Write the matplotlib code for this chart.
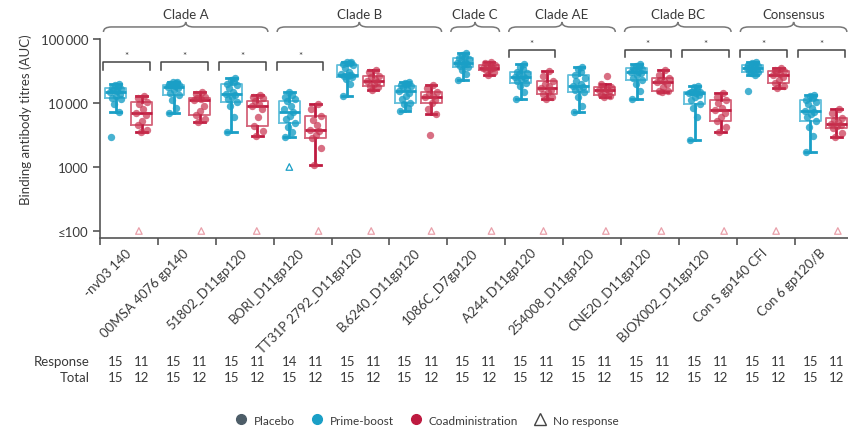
import numpy as np
import matplotlib.pyplot as plt
from matplotlib.path import Path
from matplotlib.patches import PathPatch
from matplotlib.lines import Line2D
from matplotlib.transforms import blended_transform_factory

plt.rcParams['font.family'] = ['Lato', 'DejaVu Sans']

antigens = ['-nv03 140', '00MSA 4076 gp140', '51802_D11gp120', 'BORI_D11gp120',
            'TT31P 2792_D11gp120', 'B.6240_D11gp120', '1086C_D7gp120', 'A244 D11gp120',
            '254008_D11gp120', 'CNE20_D11gp120', 'BJOX002_D11gp120', 'Con S gp140 CFI',
            'Con 6 gp120/B']
clades = ['Clade A', 'Clade B', 'Clade C', 'Clade AE', 'Clade BC', 'Consensus']
clade_start = [0, 3, 6, 7, 9, 11]
clade_end = [3, 6, 7, 9, 11, 13]
signif = [0, 1, 2, 3, 7, 9, 10, 11, 12]

# box statistics: whisker low, q1, median, q3, whisker high
pb_lo = [7200, 7000, 3500, 2900, 13000, 7600, 22900, 11500, 7200, 11500, 2600, 27400, 1700]
pb_q1 = [12000, 13300, 10500, 4900, 25100, 10000, 36100, 20500, 15000, 23100, 9650, 30200, 5300]
pb_med = [14900, 17800, 14000, 7200, 27500, 15500, 42200, 25100, 18200, 30200, 14200, 34800, 7600]
pb_q3 = [17100, 19100, 19800, 10900, 39200, 18200, 49900, 30800, 27400, 34800, 15000, 39200, 11100]
pb_hi = [19800, 21500, 24300, 14700, 44200, 21000, 60400, 40700, 36100, 40700, 18600, 44200, 13300]

co_lo = [3500, 5100, 3050, 1090, 16100, 6700, 27400, 11500, 12500, 14700, 3560, 17000, 2970]
co_q1 = [4500, 6500, 4400, 2800, 18200, 10000, 33100, 13800, 13500, 15500, 5280, 20500, 4030]
co_med = [7100, 11300, 9100, 3800, 22300, 12300, 35200, 17000, 16000, 21000, 7800, 27700, 4700]
co_q3 = [10400, 11800, 10900, 6200, 26700, 14700, 39200, 21800, 17600, 24300, 11100, 31300, 5840]
co_hi = [12800, 14700, 13300, 9650, 33100, 19100, 44200, 32000, 19800, 32800, 14200, 34800, 8060]

pb_points = [
    [2950, 7200, 9500, 11500, 12000, 13000, 14000, 14900, 15500, 16200, 16800, 17100, 18000, 19000, 19800],
    [7000, 8500, 11000, 13300, 14500, 16000, 17000, 17800, 18200, 18800, 19100, 19500, 20500, 21000, 21500],
    [3500, 6000, 9000, 10500, 11500, 12500, 13500, 14000, 15000, 17000, 19000, 19800, 21500, 23000, 24300],
    [2900, 3500, 4200, 4900, 5600, 6300, 7200, 8000, 9000, 10900, 11500, 12500, 13500, 14700],
    [13000, 20000, 24000, 25100, 26000, 27000, 27500, 28500, 31000, 35000, 39200, 40000, 42000, 43000, 44200],
    [7600, 8500, 9500, 10000, 11500, 13000, 14500, 15500, 16500, 17500, 18200, 19000, 19500, 20200, 21000],
    [22900, 28000, 33000, 36100, 38000, 40000, 41000, 42200, 44000, 46000, 48000, 49900, 53000, 57000, 60400],
    [11500, 15000, 18500, 20500, 22000, 23500, 24500, 25100, 26500, 28000, 29500, 30800, 33500, 37000, 40700],
    [7200, 9000, 12500, 15000, 16000, 17000, 17500, 18200, 19500, 22000, 25000, 27400, 30000, 33500, 36100],
    [11500, 15500, 20000, 23100, 25000, 27000, 29000, 30200, 31000, 32500, 33500, 34800, 36500, 38500, 40700],
    [2600, 6000, 8500, 9650, 11000, 12500, 13500, 14200, 14500, 14700, 14900, 15000, 16000, 17500, 18600],
    [15500, 27400, 29000, 30200, 31500, 33000, 34000, 34800, 36000, 37000, 38000, 39200, 41000, 42500, 44200],
    [1700, 3000, 4200, 5300, 6000, 6800, 7200, 7600, 8500, 9500, 10500, 11100, 12000, 12800, 13300],
]
co_points = [
    [3500, 3800, 4500, 5200, 6500, 7100, 8000, 9500, 10400, 12000, 12800],
    [5100, 5600, 6500, 7500, 9000, 11300, 11500, 11800, 12500, 13800, 14700],
    [3050, 3600, 4400, 6000, 8000, 9100, 9800, 10900, 11800, 12500, 13300],
    [1090, 2000, 2800, 3200, 3600, 3800, 4500, 5500, 6200, 8000, 9650],
    [16100, 17500, 18200, 20000, 21500, 22300, 24000, 25500, 26700, 30000, 33100],
    [3200, 6700, 8000, 10000, 11000, 12300, 13000, 14000, 14700, 17000, 19100],
    [27400, 31000, 33100, 34000, 34800, 35200, 36000, 37500, 39200, 41500, 44200],
    [11500, 12500, 13800, 15000, 16000, 17000, 18500, 20000, 21800, 26000, 32000],
    [12500, 13000, 13500, 14500, 15200, 16000, 16500, 17000, 17600, 19800, 26100],
    [14700, 15200, 15500, 17500, 19500, 21000, 22000, 23000, 24300, 27500, 32800],
    [3560, 4200, 5280, 6000, 7000, 7800, 8500, 10000, 11100, 12500, 14200],
    [17000, 18500, 20500, 23000, 25500, 27700, 28500, 30000, 31300, 33000, 34800],
    [2970, 3400, 4030, 4300, 4500, 4700, 5000, 5400, 5840, 7000, 8060],
]
pb_noresp = [None, None, None, 1000, None, None, None, None, None, None, None, None, None]
co_noresp = [100] * 13

resp_pb = [15, 15, 15, 14, 15, 15, 15, 15, 15, 15, 15, 15, 15]
resp_co = [11, 11, 11, 11, 11, 11, 11, 11, 11, 11, 11, 11, 11]
total_pb = [15, 15, 15, 15, 15, 15, 15, 15, 15, 15, 15, 15, 15]
total_co = [12, 12, 12, 12, 12, 12, 12, 12, 12, 12, 12, 12, 12]

blue = '#1a9fc6'
blue_light = '#63bfdb'
red = '#be1a40'
red_light = '#d4637a'
red_pt = '#c8324f'
grey = '#4d5d68'
txt = '#3a3a3a'

n = len(antigens)
x = np.arange(n)
pb_x = x + 0.27
co_x = x + 0.72
jit = [-0.08, 0.05, -0.02, 0.09, -0.06, 0.01, 0.07, -0.1, 0.03, -0.04, 0.1, -0.07, 0.04, -0.01, 0.06]

fig = plt.figure(figsize=(8.48, 4.31), dpi=100)
ax = fig.add_axes([0.1179, 0.4455, 0.8876, 0.5545])
ax.set_yscale('log')
ax.set_xlim(0, n)
ax.set_ylim(77.7, 421700)

def boxes(xs, lo, q1, med, q3, hi, col, light):
    stats = [dict(whislo=a, q1=b, med=c, q3=d, whishi=e, fliers=[])
             for a, b, c, d, e in zip(lo, q1, med, q3, hi)]
    ax.bxp(stats, positions=xs, widths=0.36, showfliers=False, manage_ticks=False,
           boxprops=dict(color=light, lw=1.3),
           medianprops=dict(color=col, lw=2),
           whiskerprops=dict(color=col, lw=2),
           capprops=dict(color=col, lw=2), capwidths=0.18)

boxes(pb_x, pb_lo, pb_q1, pb_med, pb_q3, pb_hi, blue, blue_light)
boxes(co_x, co_lo, co_q1, co_med, co_q3, co_hi, red, red_light)

for i in range(n):
    p = pb_points[i]
    ax.scatter(pb_x[i] + np.array(jit[:len(p)]), p, s=28, color=blue, alpha=0.8, lw=0, zorder=3)
    c = co_points[i]
    ax.scatter(co_x[i] + np.array(jit[2:2 + len(c)]), c, s=28, color=red_pt, alpha=0.7, lw=0, zorder=3)
    ax.scatter(co_x[i] + jit[i] * 0.6, co_noresp[i], marker='^', s=22, facecolor='none',
               edgecolor='#e9a0aa', lw=0.9, zorder=3)
    if pb_noresp[i] is not None:
        ax.scatter(pb_x[i], pb_noresp[i], marker='^', s=22, facecolor='none',
                   edgecolor=blue, lw=0.9, zorder=3)

ax.set_yticks([100, 1000, 10000, 100000])
ax.set_yticklabels(['≤100', '1000', '10\u2009000', '100\u2009000'])
ax.yaxis.set_minor_locator(plt.NullLocator())
ax.set_xticks(np.arange(n + 1))
ax.set_xticklabels([])
ax.set_xticks(x + 0.5, minor=True)
ax.set_xticklabels(antigens, minor=True, rotation=45, ha='right', va='center',
                   rotation_mode='anchor', fontsize=9.5, color=txt)
ax.tick_params(axis='x', which='minor', length=0, pad=9)
ax.tick_params(axis='both', which='major', length=5, width=1.2, color='#555555',
               labelsize=9.5, labelcolor=txt)
for s in ['top', 'right']:
    ax.spines[s].set_visible(False)
for s in ['left', 'bottom']:
    ax.spines[s].set_color('#555555')
    ax.spines[s].set_linewidth(1.2)
ax.spines['left'].set_bounds(77.7, 100000)
ax.set_ylabel('Binding antibody titres (AUC)', fontsize=9.5, color=txt, labelpad=6)

tr = ax.get_xaxis_transform()

# clade braces
for lab, a, b in zip(clades, clade_start, clade_end):
    x0, x1 = a + 0.06, b - 0.1
    xc = (x0 + x1) / 2
    d = 0.14
    ylo, ymid, ytop = 0.862, 0.883, 0.904
    verts = [(x0, ylo), (x0, ymid), (x0 + d, ymid), (xc - d, ymid), (xc, ymid), (xc, ytop),
             (xc, ymid), (xc + d, ymid), (x1 - d, ymid), (x1, ymid), (x1, ylo)]
    codes = [Path.MOVETO, Path.CURVE3, Path.CURVE3, Path.LINETO, Path.CURVE3, Path.CURVE3,
             Path.CURVE3, Path.CURVE3, Path.LINETO, Path.CURVE3, Path.CURVE3]
    ax.add_patch(PathPatch(Path(verts, codes), transform=tr, fc='none', ec='#777777',
                           lw=1.1, clip_on=False))
    ax.text(xc, 0.937, lab, transform=tr, ha='center', va='center', fontsize=9.5, color=txt)

# significance brackets
for i in signif:
    if i < 4:
        ytop, ylo, yast = 0.736, 0.703, 0.764
    else:
        ytop, ylo, yast = 0.787, 0.757, 0.814
    x0, x1 = i + 0.06, i + 0.86
    ax.plot([x0, x0, x1, x1], [ylo, ytop, ytop, ylo], transform=tr, color='#444444',
            lw=1.1, clip_on=False)
    ax.text((x0 + x1) / 2, yast, '*', transform=tr, ha='center', va='center',
            fontsize=7, color=txt)

# response table
tt = blended_transform_factory(ax.transData, fig.transFigure)
fig.text(0.106, 0.160, 'Response', ha='right', va='center', fontsize=9.5, color=txt)
fig.text(0.106, 0.123, 'Total', ha='right', va='center', fontsize=9.5, color=txt)
for i in range(n):
    ax.text(pb_x[i], 0.160, str(resp_pb[i]), transform=tt, ha='center', va='center', fontsize=9.5, color=txt)
    ax.text(co_x[i], 0.160, str(resp_co[i]), transform=tt, ha='center', va='center', fontsize=9.5, color=txt)
    ax.text(pb_x[i], 0.123, str(total_pb[i]), transform=tt, ha='center', va='center', fontsize=9.5, color=txt)
    ax.text(co_x[i], 0.123, str(total_co[i]), transform=tt, ha='center', va='center', fontsize=9.5, color=txt)

handles = [Line2D([], [], ls='', marker='o', color=grey, markersize=7),
           Line2D([], [], ls='', marker='o', color=blue, markersize=7),
           Line2D([], [], ls='', marker='o', color=red, markersize=7),
           Line2D([], [], ls='', marker='^', mfc='none', mec='#444444', markersize=8)]
fig.legend(handles, ['Placebo', 'Prime-boost', 'Coadministration', 'No response'],
           loc='center', bbox_to_anchor=(0.5, 0.023), ncol=4, frameon=False,
           fontsize=8.5, handletextpad=0.05, columnspacing=0.9, labelcolor=txt)

fig.savefig('out.png', dpi=100)
